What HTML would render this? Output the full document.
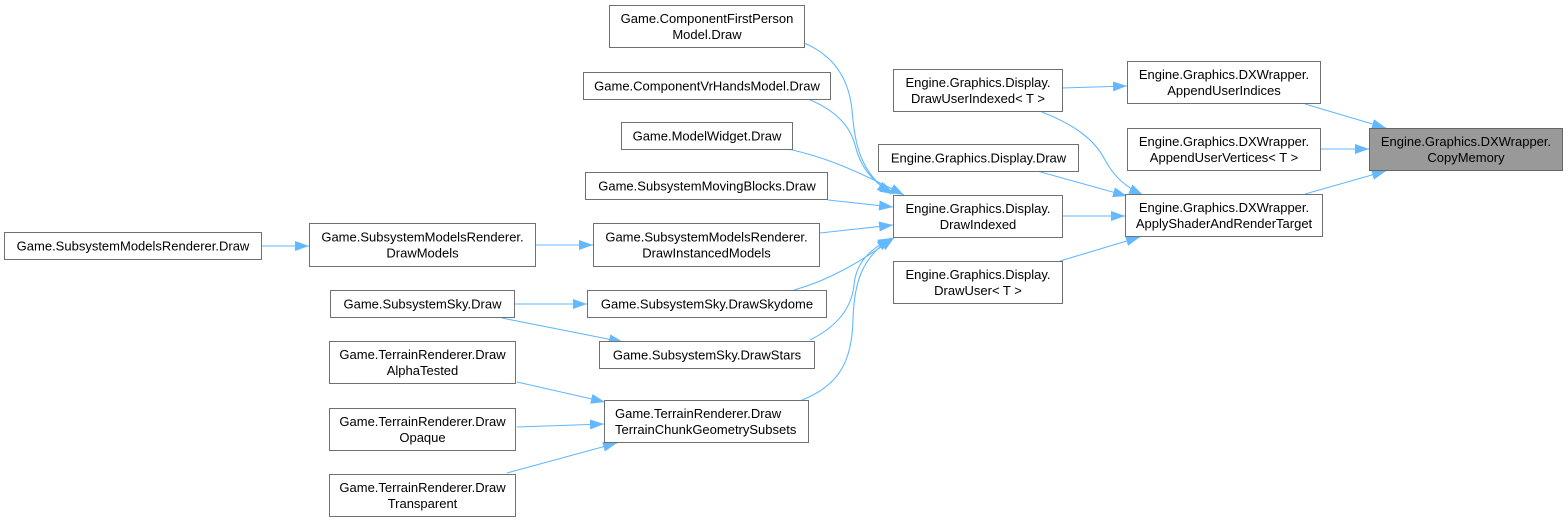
<!DOCTYPE html>
<html>
<head>
<meta charset="utf-8">
<style>
html,body{margin:0;padding:0;background:#fff;width:1568px;height:523px;overflow:hidden;}
svg{display:block;}
text{font-family:"Liberation Sans",Arial,sans-serif;font-size:13px;fill:#000;}
.b{fill:#fff;stroke:#707070;stroke-width:1;}
.e{fill:none;stroke:#63b8ff;stroke-width:1.1;}
</style>
</head>
<body>
<svg width="1568" height="523" viewBox="0 0 1568 523" xmlns="http://www.w3.org/2000/svg">
<defs>
<marker id="a" markerWidth="15" markerHeight="11" refX="14" refY="5" orient="auto" markerUnits="userSpaceOnUse">
<path d="M0,0 L14,5 L0,10 z" fill="#63b8ff"/>
</marker>
</defs>

<!-- edges -->
<g class="edges">
<path class="e" marker-end="url(#a)" d="M262,246 L309,246"/>
<path class="e" marker-end="url(#a)" d="M536,245 L593,245"/>
<path class="e" marker-end="url(#a)" d="M515,304 L587,304"/>
<path class="e" marker-end="url(#a)" d="M502,318 L623,342"/>
<path class="e" marker-end="url(#a)" d="M517,382 L605,402"/>
<path class="e" marker-end="url(#a)" d="M517,427 L604,424"/>
<path class="e" marker-end="url(#a)" d="M507,473 L617,443"/>

<path class="e" marker-end="url(#a)" d="M804,43 C835,56 849,80 852,110 C855,145 860,172 891,194"/>
<path class="e" marker-end="url(#a)" d="M808,99 C835,110 850,125 855,145 C860,165 870,181 894,194"/>
<path class="e" marker-end="url(#a)" d="M788,149 C820,156 848,166 904,195"/>
<path class="e" marker-end="url(#a)" d="M828,200 L893,207"/>
<path class="e" marker-end="url(#a)" d="M820,233 L893,225"/>
<path class="e" marker-end="url(#a)" d="M794,290 C830,280 860,262 894,238"/>
<path class="e" marker-end="url(#a)" d="M810,340 C840,325 852,305 854,285 C856,265 866,251 892,238"/>
<path class="e" marker-end="url(#a)" d="M802,400 C840,385 852,360 853,320 C854,282 862,258 891,238"/>

<path class="e" marker-end="url(#a)" d="M1062,88 L1127,86"/>
<path class="e" marker-end="url(#a)" d="M1042,112 C1075,125 1095,140 1105,160 C1115,178 1126,187 1143,195"/>
<path class="e" marker-end="url(#a)" d="M1037,171 L1127,196"/>
<path class="e" marker-end="url(#a)" d="M1062,216 L1125,216"/>
<path class="e" marker-end="url(#a)" d="M1060,261 L1140,237"/>

<path class="e" marker-end="url(#a)" d="M1305,104 L1386,128"/>
<path class="e" marker-end="url(#a)" d="M1320,149 L1369,149"/>
<path class="e" marker-end="url(#a)" d="M1305,194 L1386,171"/>
</g>

<!-- nodes -->
<g>
<rect class="b" x="4.5" y="232.5" width="257" height="27"/>
<text x="133" y="250.5" text-anchor="middle">Game.SubsystemModelsRenderer.Draw</text>

<rect class="b" x="309.5" y="223.5" width="226" height="43"/>
<text x="422.5" y="241.5" text-anchor="middle">Game.SubsystemModelsRenderer.</text>
<text x="422.5" y="257.5" text-anchor="middle">DrawModels</text>

<rect class="b" x="609.5" y="5.5" width="195" height="42"/>
<text x="707" y="23" text-anchor="middle">Game.ComponentFirstPerson</text>
<text x="707" y="39" text-anchor="middle">Model.Draw</text>

<rect class="b" x="583.5" y="72.5" width="247" height="27"/>
<text x="707" y="90.5" text-anchor="middle">Game.ComponentVrHandsModel.Draw</text>

<rect class="b" x="621.5" y="122.5" width="171" height="27"/>
<text x="707" y="140.5" text-anchor="middle">Game.ModelWidget.Draw</text>

<rect class="b" x="585.5" y="172.5" width="242" height="27"/>
<text x="707" y="190.5" text-anchor="middle">Game.SubsystemMovingBlocks.Draw</text>

<rect class="b" x="593.5" y="223.5" width="226" height="43"/>
<text x="706.5" y="241.5" text-anchor="middle">Game.SubsystemModelsRenderer.</text>
<text x="706.5" y="257.5" text-anchor="middle">DrawInstancedModels</text>

<rect class="b" x="330.5" y="290.5" width="184" height="27"/>
<text x="422.5" y="308.5" text-anchor="middle">Game.SubsystemSky.Draw</text>

<rect class="b" x="587.5" y="290.5" width="239" height="27"/>
<text x="707" y="308.5" text-anchor="middle">Game.SubsystemSky.DrawSkydome</text>

<rect class="b" x="599.5" y="341.5" width="215" height="27"/>
<text x="707" y="359.5" text-anchor="middle">Game.SubsystemSky.DrawStars</text>

<rect class="b" x="329.5" y="341.5" width="186" height="42"/>
<text x="422.5" y="359" text-anchor="middle">Game.TerrainRenderer.Draw</text>
<text x="422.5" y="375" text-anchor="middle">AlphaTested</text>

<rect class="b" x="604.5" y="400.5" width="204" height="42"/>
<text x="615" y="418">Game.TerrainRenderer.Draw</text>
<text x="615" y="434">TerrainChunkGeometrySubsets</text>

<rect class="b" x="329.5" y="408.5" width="186" height="42"/>
<text x="422.5" y="426" text-anchor="middle">Game.TerrainRenderer.Draw</text>
<text x="422.5" y="442" text-anchor="middle">Opaque</text>

<rect class="b" x="329.5" y="474.5" width="186" height="42"/>
<text x="422.5" y="492" text-anchor="middle">Game.TerrainRenderer.Draw</text>
<text x="422.5" y="508" text-anchor="middle">Transparent</text>

<rect class="b" x="893.5" y="69.5" width="169" height="42"/>
<text x="978" y="87" text-anchor="middle">Engine.Graphics.Display.</text>
<text x="978" y="103" text-anchor="middle">DrawUserIndexed&lt; T &gt;</text>

<rect class="b" x="878.5" y="144.5" width="200" height="27"/>
<text x="978.5" y="162.5" text-anchor="middle">Engine.Graphics.Display.Draw</text>

<rect class="b" x="893.5" y="195.5" width="169" height="42"/>
<text x="978" y="213" text-anchor="middle">Engine.Graphics.Display.</text>
<text x="978" y="229" text-anchor="middle">DrawIndexed</text>

<rect class="b" x="893.5" y="261.5" width="169" height="42"/>
<text x="978" y="279" text-anchor="middle">Engine.Graphics.Display.</text>
<text x="978" y="295" text-anchor="middle">DrawUser&lt; T &gt;</text>

<rect class="b" x="1127.5" y="61.5" width="193" height="42"/>
<text x="1224" y="79" text-anchor="middle">Engine.Graphics.DXWrapper.</text>
<text x="1224" y="95" text-anchor="middle">AppendUserIndices</text>

<rect class="b" x="1127.5" y="128.5" width="193" height="42"/>
<text x="1224" y="146" text-anchor="middle">Engine.Graphics.DXWrapper.</text>
<text x="1224" y="162" text-anchor="middle">AppendUserVertices&lt; T &gt;</text>

<rect class="b" x="1125.5" y="194.5" width="197" height="42"/>
<text x="1224" y="212" text-anchor="middle">Engine.Graphics.DXWrapper.</text>
<text x="1224" y="228" text-anchor="middle">ApplyShaderAndRenderTarget</text>

<rect x="1369.5" y="128.5" width="193" height="42" fill="#999999" stroke="#666" stroke-width="1"/>
<text x="1466" y="146" text-anchor="middle">Engine.Graphics.DXWrapper.</text>
<text x="1466" y="162" text-anchor="middle">CopyMemory</text>
</g>
</svg>
</body>
</html>
